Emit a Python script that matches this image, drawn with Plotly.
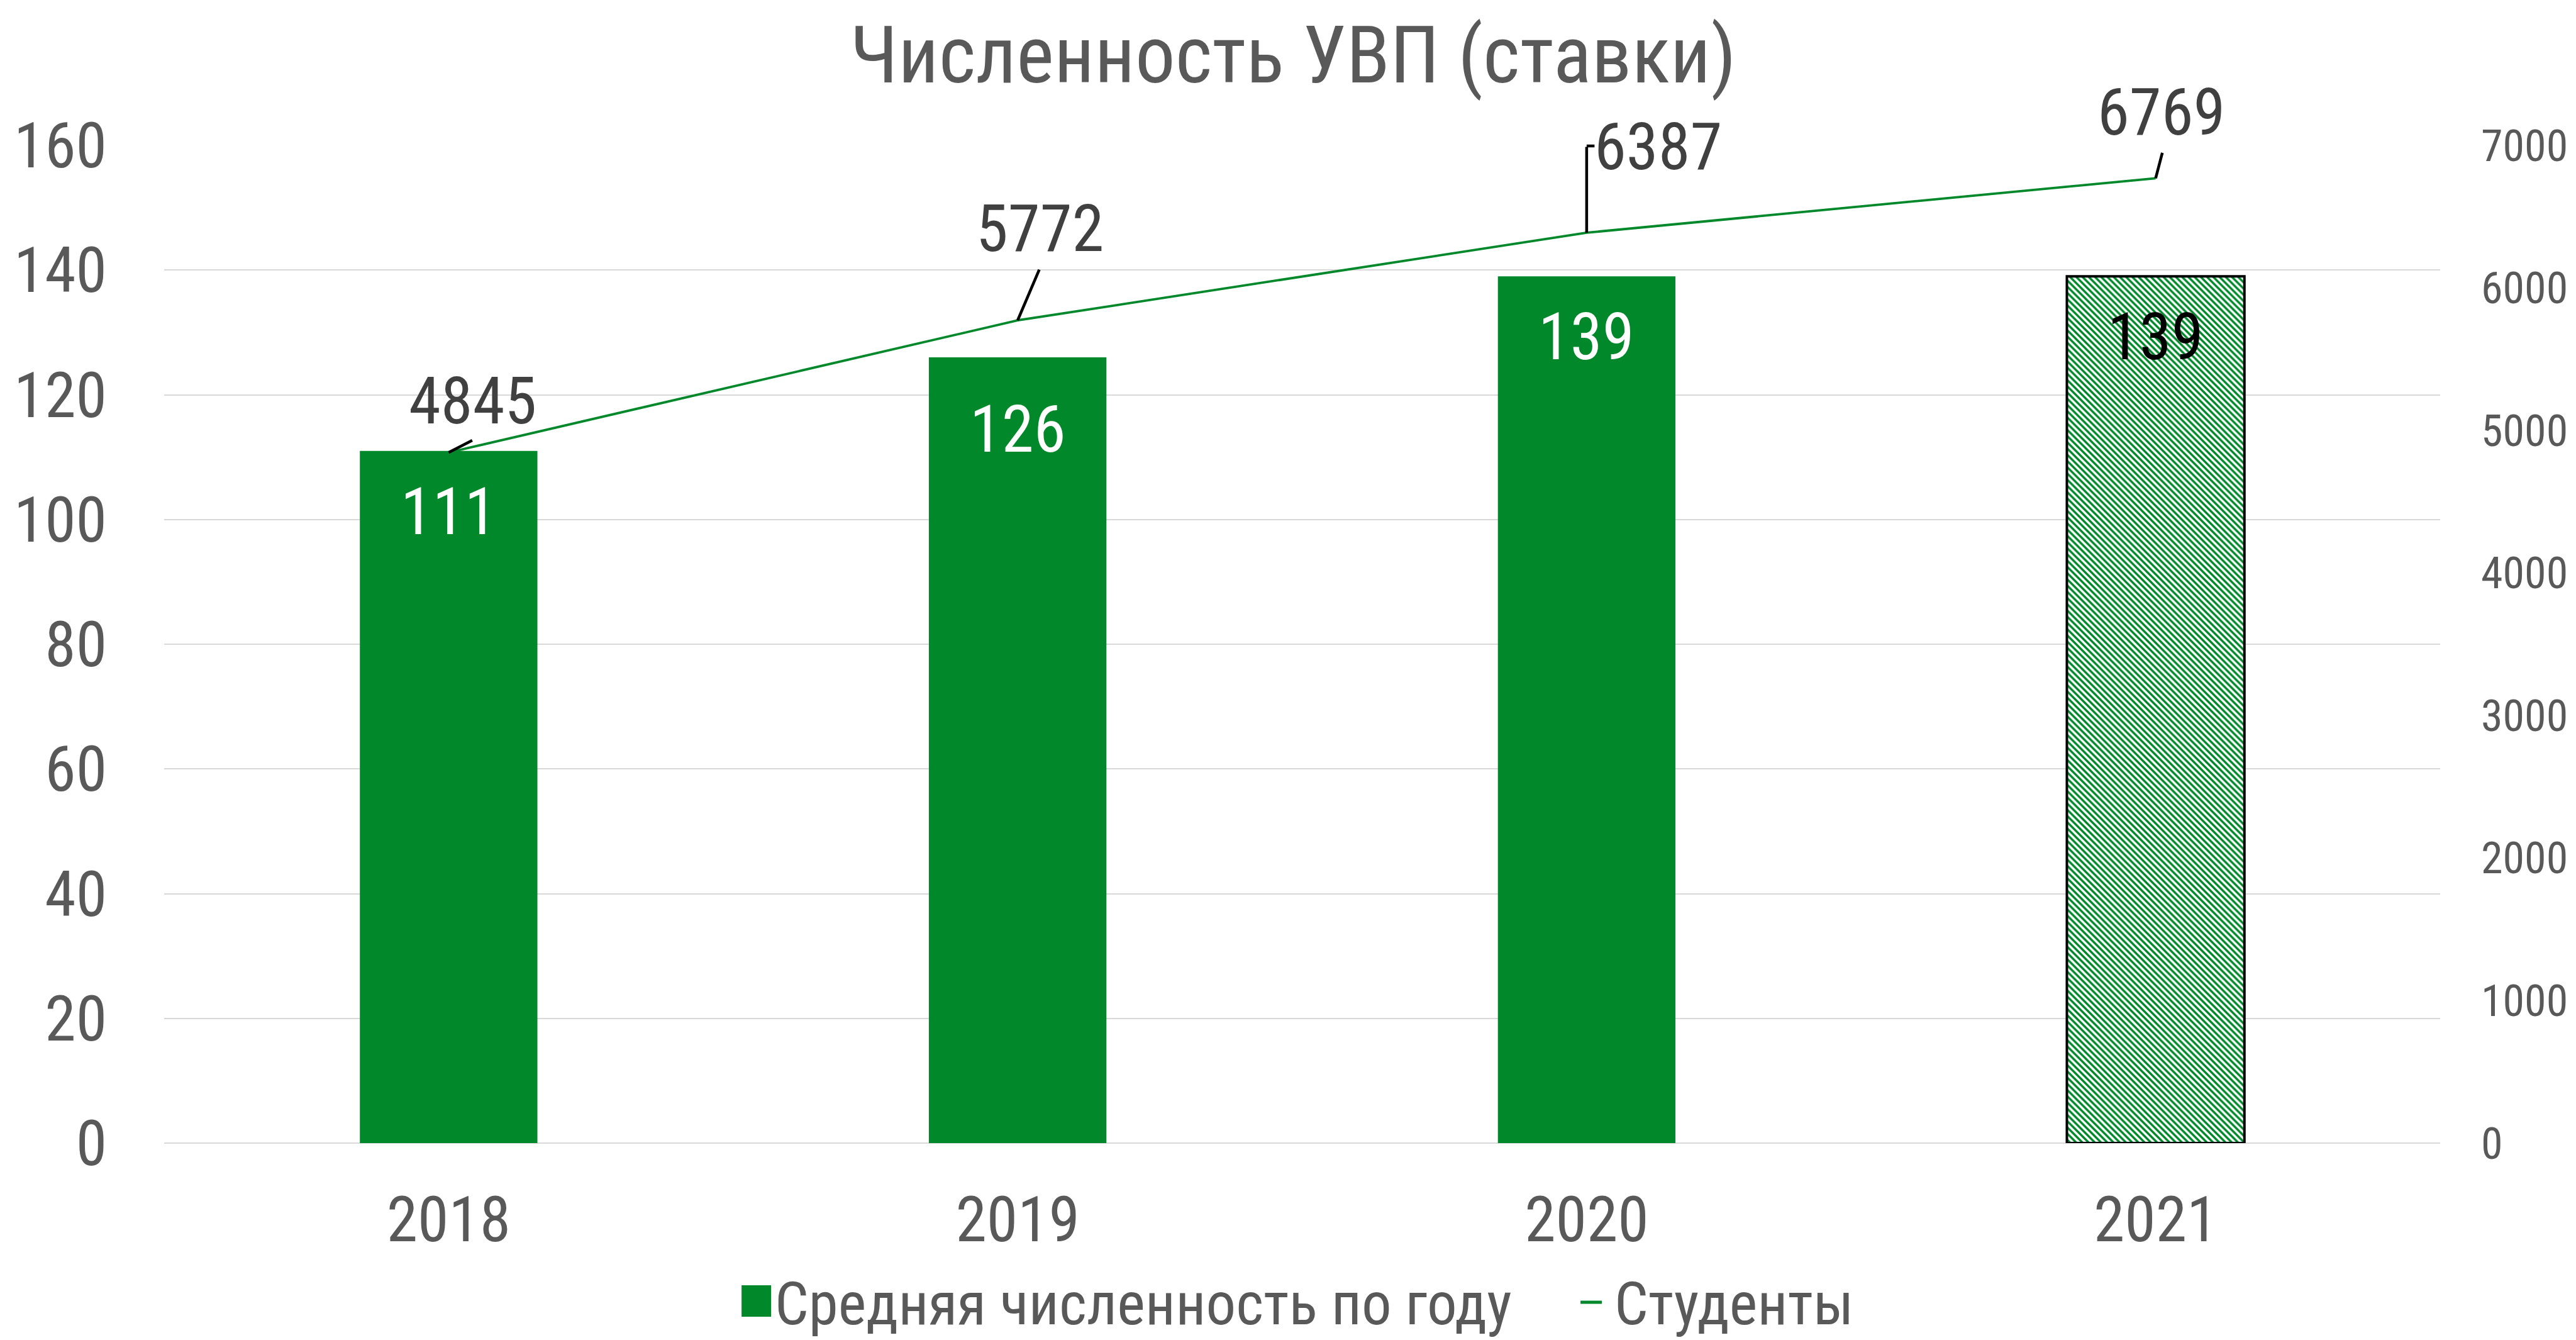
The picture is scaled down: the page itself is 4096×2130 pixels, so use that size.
import plotly.graph_objects as go

# ---- data ----
years = ["2018", "2019", "2020", "2021"]
staff = [111, 126, 139, 139]
students = [4845, 5772, 6387, 6769]
left_ticks = [0, 20, 40, 60, 80, 100, 120, 140, 160]
right_ticks = [0, 1000, 2000, 3000, 4000, 5000, 6000, 7000]
title_text = "Численность УВП (ставки)"
bar_name = "Средняя численность по году"
line_name = "Студенты"

# ---- styles ----
GREEN = "#00882B"
GREY = "#595959"
LABEL = "#404040"
FONT = "Roboto Condensed, Liberation Sans Narrow, Arial Narrow, Liberation Sans, Arial, sans-serif"

# offsets (px) of labels and leader-line tails relative to the points
bar_label_shifts = [-34, -52, -34, -34]
label_offsets = [(38, 82), (35, 146), (114, 136), (9, 105)]
leader_tails = [(39, -20), (35, -82), (0, -138), (11, -42)]
bar_label_colors = ["white", "white", "white", "black"]

fig = go.Figure()

fig.add_trace(go.Bar(
    x=years, y=staff, name=bar_name, showlegend=False,
    marker=dict(
        color=GREEN,
        line=dict(color=["rgba(0,0,0,0)"] * 3 + ["#000000"], width=[0, 0, 0, 4]),
        pattern=dict(shape=["", "", "", "\\"], fgcolor=GREEN, bgcolor="white",
                     size=7, solidity=0.5, fillmode="replace"),
    ),
    hoverinfo="skip",
))

fig.add_trace(go.Scatter(
    x=years, y=students, name=line_name, yaxis="y2", mode="lines",
    line=dict(color=GREEN, width=3.8), showlegend=False, hoverinfo="skip",
))

annotations = []
# bar value labels (category axis: annotations use the category index)
for i, (v, c, sh) in enumerate(zip(staff, bar_label_colors, bar_label_shifts)):
    annotations.append(dict(x=i, y=v, xref="x", yref="y", text=str(v), showarrow=False,
                            yanchor="top", xanchor="center", yshift=sh,
                            font=dict(size=103, color=c, family=FONT)))
# student labels + leader lines
for i, (v, (dx, dy), (tx, ty)) in enumerate(zip(students, label_offsets, leader_tails)):
    annotations.append(dict(x=i, y=v, xref="x", yref="y2", text=str(v), showarrow=False,
                            xanchor="center", yanchor="middle", xshift=dx, yshift=dy,
                            font=dict(size=103, color=LABEL, family=FONT)))
    annotations.append(dict(x=i, y=v, xref="x", yref="y2", text="", showarrow=True,
                            arrowhead=0, arrowwidth=4.5, arrowcolor="black",
                            ax=tx, ay=ty, axref="pixel", ayref="pixel",
                            standoff=0, startstandoff=0, font=dict(size=1)))
# small horizontal tick of the 2020 leader line
annotations.append(dict(x=2, y=students[2], xref="x", yref="y2", text="", showarrow=True,
                        arrowhead=0, arrowwidth=4.5, arrowcolor="black",
                        ax=14, ay=0, axref="pixel", ayref="pixel", yshift=138,
                        standoff=0, startstandoff=0, font=dict(size=1)))

# legend (drawn manually for large symbols)
annotations.append(dict(x=0.2678, y=-0.1608, xref="paper", yref="paper", text=bar_name,
                        showarrow=False, xanchor="left", yanchor="middle",
                        font=dict(size=95, color=GREY, family=FONT)))
annotations.append(dict(x=0.6366, y=-0.1608, xref="paper", yref="paper", text=line_name,
                        showarrow=False, xanchor="left", yanchor="middle",
                        font=dict(size=95, color=GREY, family=FONT)))

shapes = [
    dict(type="rect", xref="paper", yref="paper", x0=0.2537, x1=0.2667, y0=-0.1740, y1=-0.1425,
         fillcolor=GREEN, line=dict(width=0)),
    dict(type="line", xref="paper", yref="paper", x0=0.6223, x1=0.6317, y0=-0.1595, y1=-0.1595,
         line=dict(color=GREEN, width=5)),
]

fig.update_layout(
    width=4096, height=2130,
    margin=dict(l=261, r=216, t=231, b=313, autoexpand=False),
    paper_bgcolor="white", plot_bgcolor="white",
    font=dict(family=FONT, color=GREY),
    title=dict(text=title_text, x=0.502, xref="container", xanchor="center",
               y=0.9596, yref="container", yanchor="middle",
               font=dict(size=127, color=GREY, family=FONT)),
    bargap=0.688,
    showlegend=False,
    xaxis=dict(type="category", range=[-0.5, 3.5], showgrid=False, showline=False,
               zeroline=False, ticks="",
               tickfont=dict(size=100, color=GREY, family=FONT), ticklabelstandoff=55),
    yaxis=dict(range=[0, 160], tickvals=left_ticks, showgrid=True, gridcolor="#D9D9D9",
               gridwidth=2, zeroline=True, zerolinecolor="#D9D9D9", zerolinewidth=2,
               showline=False, ticks="", tickfont=dict(size=100, color=GREY, family=FONT),
               ticklabelstandoff=90),
    yaxis2=dict(range=[0, 7000], tickvals=right_ticks, overlaying="y", side="right",
                showgrid=False, zeroline=False, showline=False, ticks="",
                tickfont=dict(size=70, color=GREY, family=FONT), ticklabelstandoff=64),
    annotations=annotations,
    shapes=shapes,
)

fig.write_html("out.html")
